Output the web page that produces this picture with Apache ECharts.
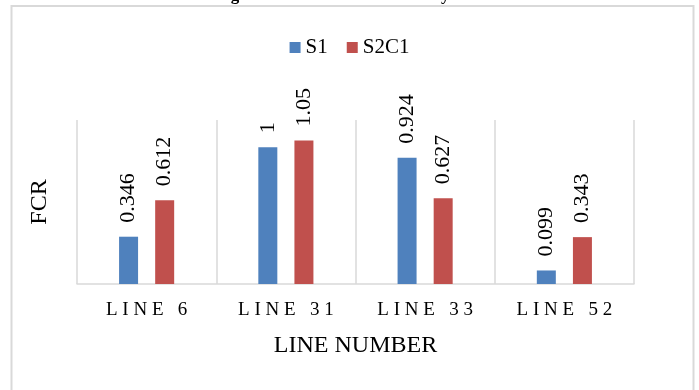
<!DOCTYPE html>
<html>
<head>
<meta charset="utf-8">
<script src="https://cdn.jsdelivr.net/npm/echarts@6/dist/echarts.min.js"></script>
<style>html,body{margin:0;padding:0;background:#fff}#c{width:699px;height:390px}</style>
</head>
<body>
<div id="c"></div>
<script>
const categories = ['LINE 6', 'LINE 31', 'LINE 33', 'LINE 52'];
const s1 = [0.346, 1, 0.924, 0.099];
const s2c1 = [0.612, 1.05, 0.627, 0.343];
const seriesNames = ['S1', 'S2C1'];
const titleText = 'Fig. 3. Results of Flow in Gas System';

const font = '"Liberation Serif", "Times New Roman", serif';
const chart = echarts.init(document.getElementById('c'), null, {renderer: 'canvas'});
chart.setOption({
  animation: false,
  backgroundColor: '#fff',
  graphic: [
    {type: 'rect', shape: {x: 11.5, y: 6, width: 682, height: 400}, style: {fill: 'none', stroke: '#d9d9d9', lineWidth: 2}, z: -1},
    {type: 'text', left: 'center', top: -13, style: {text: titleText, font: 'bold 17px ' + font, fill: '#000'}}
  ],
  legend: {
    top: 32, left: 'center',
    itemWidth: 11, itemHeight: 11, itemGap: 19,
    icon: 'rect',
    textStyle: {fontFamily: font, fontSize: 21, color: '#000', padding: [2, 0, 0, 0]},
    data: seriesNames
  },
  grid: {left: 77, right: 65, top: 120, bottom: 106},
  xAxis: {
    type: 'category', data: categories,
    name: 'LINE NUMBER', nameLocation: 'middle', nameGap: 50,
    nameTextStyle: {fontFamily: font, fontSize: 24, color: '#000'},
    axisLine: {lineStyle: {color: '#d9d9d9', width: 1.5}},
    axisTick: {show: false},
    splitLine: {show: true, lineStyle: {color: '#d9d9d9', width: 1.5}},
    axisLabel: {fontFamily: font, fontSize: 19, color: '#000', margin: 17,
      formatter: v => v.split('').join('\u2005')}
  },
  yAxis: {
    type: 'value', min: 0, max: 1.2, interval: 0.2,
    name: 'FCR', nameLocation: 'middle', nameGap: 25,
    nameTextStyle: {fontFamily: font, fontSize: 24, color: '#000'},
    axisLabel: {show: false}, axisLine: {show: false}, axisTick: {show: false},
    splitLine: {show: false}
  },
  series: [
    {name: seriesNames[0], type: 'bar', data: s1, barWidth: 19, barGap: '90%',
      itemStyle: {color: '#4f81bd'},
      label: {show: true, position: 'top', rotate: 90, align: 'left', verticalAlign: 'middle', distance: 14,
        fontFamily: font, fontSize: 22, color: '#000'}},
    {name: seriesNames[1], type: 'bar', data: s2c1, barWidth: 19,
      itemStyle: {color: '#c0504d'},
      label: {show: true, position: 'top', rotate: 90, align: 'left', verticalAlign: 'middle', distance: 14,
        fontFamily: font, fontSize: 22, color: '#000'}}
  ]
});
</script>
</body>
</html>
